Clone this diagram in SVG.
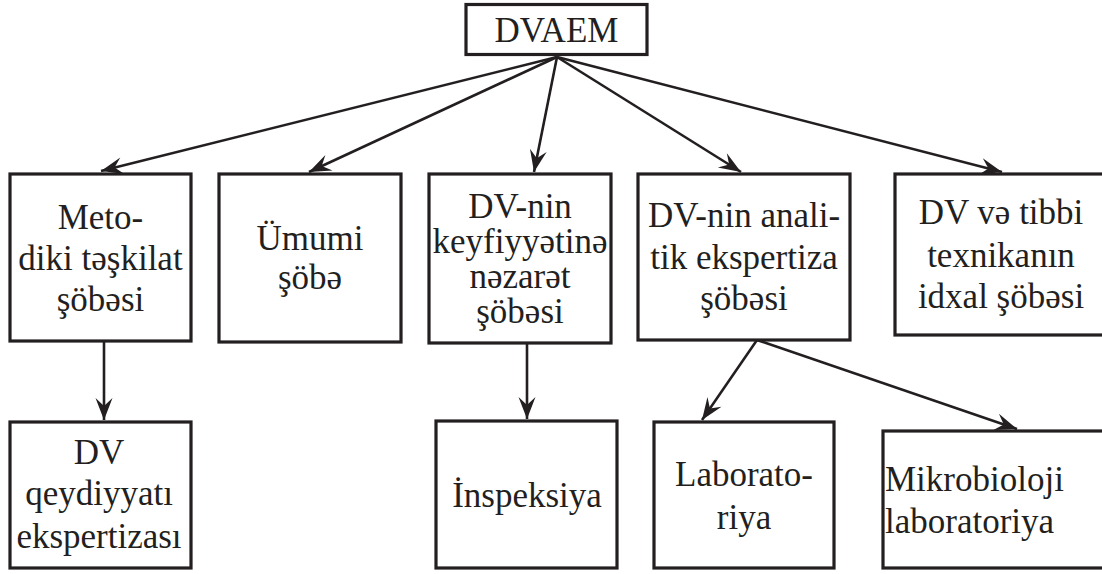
<svg xmlns="http://www.w3.org/2000/svg" width="1102" height="574" viewBox="0 0 1102 574">
<style>
  .box { fill: #ffffff; stroke: #231f20; stroke-width: 3.2; }
  .lbl { font-family: "Liberation Serif", "Times New Roman", serif; font-size: 35px; fill: #231f20; text-anchor: middle; }
  .left { text-anchor: start; }
  .edge { stroke: #231f20; stroke-width: 2.6; fill: none; marker-end: url(#arrow); }
</style>
<defs>
  <marker id="arrow" markerUnits="userSpaceOnUse" markerWidth="30" markerHeight="24" viewBox="-24 -12 30 24" refX="0" refY="0" orient="auto">
    <path d="M0,0 L-22,-8.5 L-14,0 L-22,8.5 Z" fill="#231f20"/>
  </marker>
</defs>
<rect x="0" y="0" width="1102" height="574" fill="#ffffff"/>
<g id="connectors">
  <line class="edge" x1="557" y1="57" x2="101" y2="171"/>
  <line class="edge" x1="557" y1="57" x2="309" y2="172"/>
  <line class="edge" x1="557" y1="57" x2="534" y2="172"/>
  <line class="edge" x1="557" y1="57" x2="741" y2="172"/>
  <line class="edge" x1="557" y1="57" x2="1002" y2="172"/>
  <line class="edge" x1="104" y1="342" x2="104" y2="420"/>
  <line class="edge" x1="527" y1="344" x2="527" y2="419"/>
  <line class="edge" x1="757" y1="340" x2="702" y2="420"/>
  <line class="edge" x1="757" y1="340" x2="1017" y2="429"/>
</g>
<g id="node-dvaem">
  <rect class="box" x="466" y="4.5" width="181" height="50"/>
  <text class="lbl" x="556.5" y="42">DVAEM</text>
</g>
<g id="node-metodiki">
  <rect class="box" x="10" y="174" width="181" height="167"/>
  <text class="lbl" x="100.5" y="229">Meto-</text>
  <text class="lbl" x="100.5" y="270">diki təşkilat</text>
  <text class="lbl" x="100.5" y="311">şöbəsi</text>
</g>
<g id="node-umumi">
  <rect class="box" x="219" y="174" width="182" height="168"/>
  <text class="lbl" x="310" y="250">Ümumi</text>
  <text class="lbl" x="310" y="289">şöbə</text>
</g>
<g id="node-keyfiyyet">
  <rect class="box" x="429" y="174" width="182" height="169"/>
  <text class="lbl" x="520" y="218">DV-nin</text>
  <text class="lbl" x="520" y="253">keyfiyyətinə</text>
  <text class="lbl" x="520" y="288">nəzarət</text>
  <text class="lbl" x="520" y="323">şöbəsi</text>
</g>
<g id="node-analitik">
  <rect class="box" x="638" y="174" width="212" height="166"/>
  <text class="lbl" x="744" y="227">DV-nin anali-</text>
  <text class="lbl" x="744" y="269">tik ekspertiza</text>
  <text class="lbl" x="744" y="310">şöbəsi</text>
</g>
<g id="node-idxal">
  <rect class="box" x="895" y="174" width="213" height="161"/>
  <text class="lbl" x="1001" y="224">DV və tibbi</text>
  <text class="lbl" x="1001" y="267">texnikanın</text>
  <text class="lbl" x="1001" y="308">idxal şöbəsi</text>
</g>
<g id="node-qeydiyyat">
  <rect class="box" x="10" y="422" width="181" height="146"/>
  <text class="lbl" x="99" y="464">DV</text>
  <text class="lbl" x="99" y="505">qeydiyyatı</text>
  <text class="lbl" x="99" y="548">ekspertizası</text>
</g>
<g id="node-inspeksiya">
  <rect class="box" x="436" y="421" width="181" height="147"/>
  <text class="lbl" x="527" y="507">İnspeksiya</text>
</g>
<g id="node-laboratoriya">
  <rect class="box" x="654" y="422" width="180" height="146"/>
  <text class="lbl" x="744" y="486">Laborato-</text>
  <text class="lbl" x="744" y="529">riya</text>
</g>
<g id="node-mikrobioloji">
  <rect class="box" x="883" y="431" width="225" height="137"/>
  <text class="lbl left" x="885" y="491">Mikrobioloji</text>
  <text class="lbl left" x="885" y="533">laboratoriya</text>
</g>
</svg>
